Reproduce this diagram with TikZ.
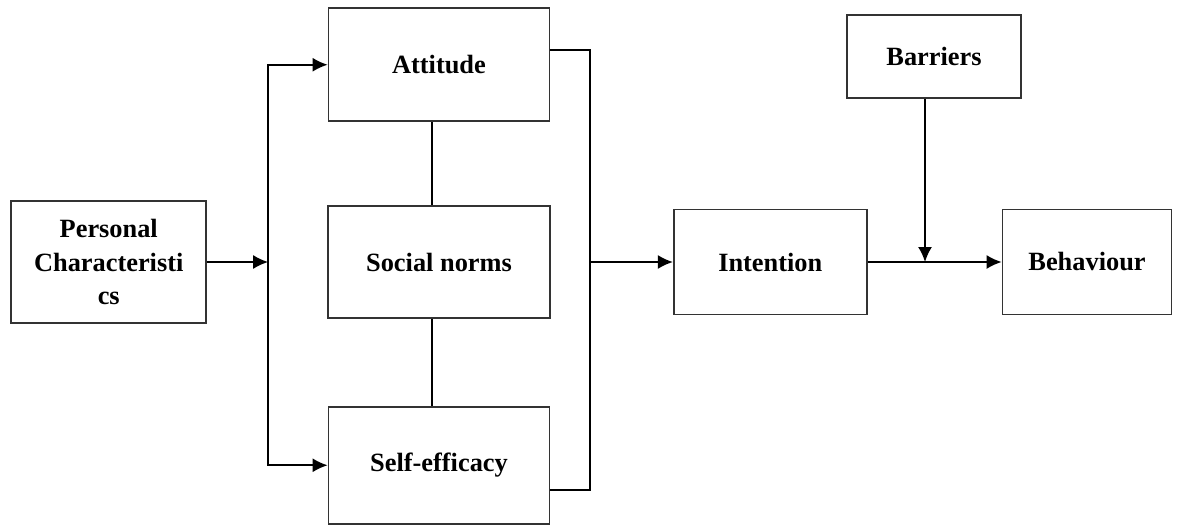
\documentclass[tikz,border=0pt]{standalone}
\usepackage{fontspec}
\setmainfont{Liberation Serif}
\usepackage{tikz}
\usetikzlibrary{arrows.meta, positioning}
\tikzstyle{block} = [rectangle, draw=black!80, line width=1pt, fill=white,
  align=center, font=\fontsize{15}{19}\selectfont\bfseries]
\tikzstyle{arrow} = [line width=1pt, -{Latex[length=3mm, width=2.8mm]}]
\tikzstyle{link} = [line width=1pt]

\begin{document}
\begin{tikzpicture}
    \useasboundingbox (0,0) rectangle (23.88,10.5);
    \node[block, minimum width=4.44cm, minimum height=2.24cm] (sn) at (8.78,5.26) {Social norms};
    \node[block, minimum width=4.42cm, minimum height=2.26cm, above=1.66cm of sn] (att) {Attitude};
    \node[block, minimum width=4.42cm, minimum height=2.34cm, below=1.74cm of sn] (se) {Self-efficacy};
    \node[block, minimum width=3.9cm, minimum height=2.44cm, left=2.4cm of sn] (pc) {Personal\\ Characteristi\\ cs};
    \node[block, minimum width=3.86cm, minimum height=2.1cm, right=2.44cm of sn] (int) {Intention};
    \node[block, minimum width=3.38cm, minimum height=2.1cm, right=2.68cm of int] (beh) {Behaviour};
    \node[block, minimum width=3.48cm, minimum height=1.66cm] (bar) at (18.68,9.37) {Barriers};
    \coordinate[right=1.22cm of pc.east] (sp);
    \coordinate[right=0.78cm of sn.east] (jn);
    \draw[arrow] (pc) -- (sp);
    \draw[arrow] (sp) |- (att.west);
    \draw[arrow] (sp) |- (se.west);
    \draw[link] ([xshift=-0.14cm]att.south) -- ([xshift=-0.14cm]sn.north);
    \draw[link] ([xshift=-0.14cm]sn.south) -- ([xshift=-0.14cm]se.north);
    \draw[link] ([yshift=0.29cm]att.east) -| (jn);
    \draw[link] ([yshift=-0.49cm]se.east) -| (jn);
    \draw[arrow] (jn) -- (int);
    \draw[arrow] (int) -- (beh);
    \draw[arrow] ([xshift=-0.18cm]bar.south) -- ([xshift=-0.18cm]bar.south |- int.east);
\end{tikzpicture}
\end{document}
